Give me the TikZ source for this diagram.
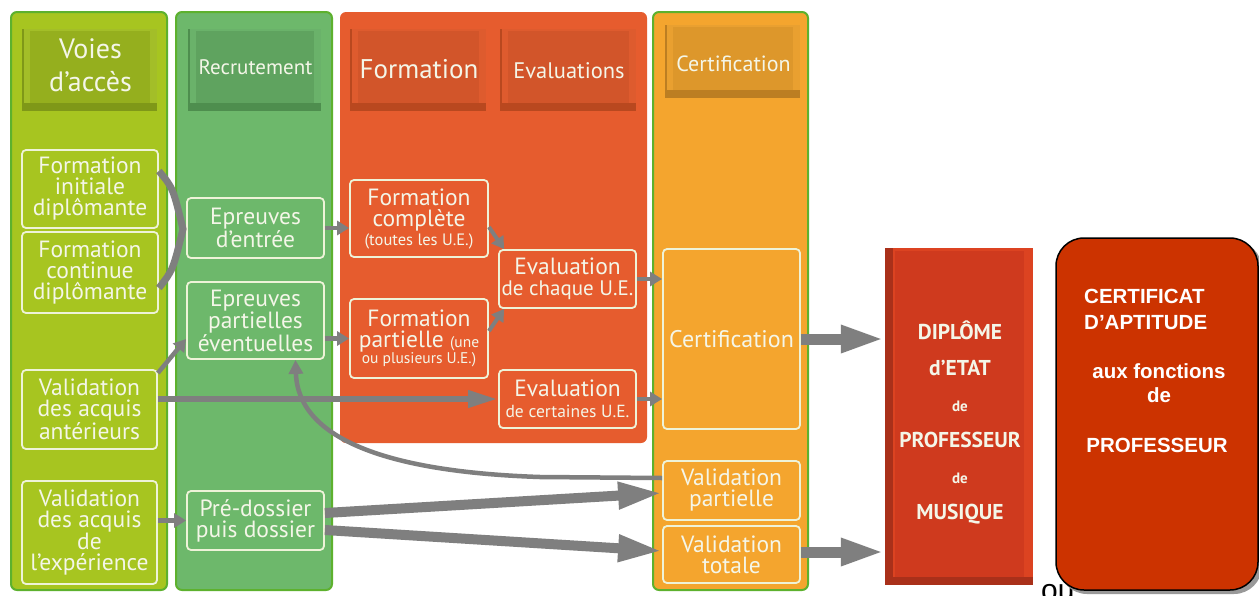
\documentclass[tikz,border=0pt]{standalone}
\usepackage{fontspec}
\setmainfont{PT Sans}
\newfontfamily\arialf{Liberation Sans}
\usetikzlibrary{arrows.meta}
\definecolor{bordgreen}{HTML}{5DB12E}
\definecolor{cA}{HTML}{A7C520}
\definecolor{cAdark}{HTML}{7F9818}
\definecolor{cAface}{HTML}{95AF1E}
\definecolor{cAlight}{HTML}{A3BE28}
\definecolor{cB}{HTML}{6DB86B}
\definecolor{cBdark}{HTML}{4E8E4E}
\definecolor{cBface}{HTML}{5FA35F}
\definecolor{cBlight}{HTML}{6AB26A}
\definecolor{cC}{HTML}{E65C2E}
\definecolor{cCdark}{HTML}{B9481F}
\definecolor{cCface}{HTML}{D2552A}
\definecolor{cClight}{HTML}{DE5B2E}
\definecolor{cD}{HTML}{F4A52E}
\definecolor{cDdark}{HTML}{BC7E22}
\definecolor{cDface}{HTML}{DD972B}
\definecolor{cDlight}{HTML}{E9A030}
\definecolor{dipl}{HTML}{CF3A1E}
\definecolor{dipldark}{HTML}{A9301A}
\definecolor{dipllight}{HTML}{DC4321}
\definecolor{certif}{HTML}{CC3300}
\definecolor{arrgray}{HTML}{7F7F7F}
\definecolor{txtw}{HTML}{F4F6E8}
\definecolor{boxline}{HTML}{EEF3D8}
\newcommand{\fsz}[2]{\fontsize{#1}{#2}\selectfont}
\newcommand{\bevelbox}[9]{%
  \fill[#6dark] (#2,#3) rectangle (#4,#5);
  \fill[#6light] ({#2+2},#3) rectangle (#4,{#5-8});
  \fill[#6face] ({#2+8},{#3+2}) rectangle ({#4-7},{#5-8});
  \node[headtext, font=#7] (#1) at ({(#2+#4)/2+1},{(#3+#5)/2+#9}) {#8};
}
\tikzset{
  x=1pt, y=-1pt,
  headtext/.style={text=txtw, align=center, inner sep=0pt},
  ibox/.style={draw=boxline, line width=1.8pt, rounded corners=4pt, text=txtw,
    align=center, inner sep=0pt, font=\fsz{23.5}{21}},
  colbox/.style={draw=bordgreen, line width=2pt, rounded corners=6pt},
  arr/.style={draw=arrgray, line width=4.5pt, -{Triangle[length=12pt,width=14pt]}},
  bigarr/.style={draw=arrgray, line width=11pt, -{Triangle[length=44pt,width=25pt]}},
  midarr/.style={draw=arrgray, line width=6.5pt, -{Triangle[length=30pt,width=16pt]}},
  thinline/.style={draw=arrgray, line width=7pt},
}
\begin{document}
\begin{tikzpicture}
\useasboundingbox (0,0) rectangle (1259,595);
\fill[white] (0,0) rectangle (1259,595);
% columns
\draw[colbox, fill=cA] (11,12) rectangle (167,590);
\draw[colbox, fill=cB] (176,12) rectangle (332,590);
\fill[cC, rounded corners=6pt] (340,12) rectangle (647,443);
\draw[colbox, fill=cD] (653,12) rectangle (808,590);
% headers
\bevelbox{hA}{22}{29}{157}{111}{cA}{\fsz{28}{33}}{Voies\\d’accès}{-5}
\bevelbox{hB}{188}{29}{321}{111}{cB}{\fsz{21}{22}}{Recrutement}{-3}
\bevelbox{hC}{350}{29}{486}{111}{cC}{\fsz{27}{28}}{Formation}{-1}
\bevelbox{hE}{500}{29}{636}{111}{cC}{\fsz{22.5}{24}}{Evaluations}{1}
\bevelbox{hD}{665}{25}{800}{98}{cD}{\fsz{22}{24}}{Certification}{2}
% column 1
\node[ibox, minimum width=136pt, minimum height=78pt] (fid) at (90,189) {Formation\\initiale\\diplômante};
\node[ibox, minimum width=136pt, minimum height=81pt] (fcd) at (90,272.5) {Formation\\continue\\diplômante};
\node[ibox, minimum width=135pt, minimum height=79pt] (vaa) at (89.5,409.5) {Validation\\des acquis\\antérieurs};
\node[ibox, minimum width=135pt, minimum height=103pt] (vae) at (89.5,532.5) {Validation\\des acquis\\de\\l’expérience};
% column 2
\node[ibox, minimum width=137pt, minimum height=60pt] (ee) at (255.5,228) {Epreuves\\d’entrée};
\node[ibox, minimum width=137pt, minimum height=77pt] (epe) at (255.5,320.5) {Epreuves\\partielles\\éventuelles};
\node[ibox, minimum width=137pt, minimum height=59pt] (pd) at (255.5,520.5) {Pré-dossier\\puis dossier};
% column 3
\node[ibox, minimum width=138pt, minimum height=77pt] (fc) at (419,218.5) {Formation\\complète\\[-2pt]{\fsz{16.5}{15}(toutes les U.E.)}};
\node[ibox, minimum width=138pt, minimum height=79pt] (fp) at (419,338.5) {Formation\\partielle {\fsz{15.5}{15}(une}\\[-5pt]{\fsz{15.5}{15}ou plusieurs U.E.)}};
\node[ibox, minimum width=137pt, minimum height=58pt] (ec) at (567.5,279) {Evaluation\\{\fsz{21}{20}de chaque U.E.}};
\node[ibox, minimum width=137pt, minimum height=58pt] (ece) at (567.5,399) {Evaluation\\{\fsz{17.5}{18}de certaines U.E.}};
% column 4
\node[ibox, minimum width=137pt, minimum height=180pt, font=\fsz{24}{24}] (cert) at (731.5,339) {Certification};
\node[ibox, minimum width=137pt, minimum height=59pt] (vp) at (731.5,490.5) {Validation\\partielle};
\node[ibox, minimum width=137pt, minimum height=57pt] (vt) at (731.5,554.5) {Validation\\totale};
% diplome
\node[fill=dipldark, minimum width=148pt, minimum height=337pt, inner sep=0pt] (dipbox) at (959,416.5) {};
\fill[dipllight] (893,248) rectangle (1033,577);
\fill[dipl] (895,251) rectangle (1024,577);
\node[text=txtw, align=center, inner sep=0pt, font=\bfseries\fsz{21.5}{36}] (dip) at (960,422)
  {DIPLÔME\\d’ETAT\\{\fsz{15}{36}de}\\PROFESSEUR\\{\fsz{15}{36}de}\\MUSIQUE};
% ou + certificat
\node[anchor=base west, inner sep=0pt, font=\arialf\fsz{30}{32}] (ou) at (1041,600) {ou};
\fill[black!40, rounded corners=28pt] (1059,241) rectangle (1262,594);
\draw[fill=certif, draw=black, line width=1.5pt, rounded corners=28pt] (1056,238) rectangle (1258,590);
\node[anchor=base west, inner sep=0pt, text=white, font=\arialf\bfseries\fsz{20.5}{24}] (ct1) at (1084,303) {CERTIFICAT};
\node[anchor=base west, inner sep=0pt, text=white, font=\arialf\bfseries\fsz{20.5}{24}] (ct2) at (1084,329) {D’APTITUDE};
\node[anchor=base, inner sep=0pt, text=white, font=\arialf\bfseries\fsz{20.5}{24}] (ct3) at (1159,378) {aux fonctions};
\node[anchor=base, inner sep=0pt, text=white, font=\arialf\bfseries\fsz{20.5}{24}] (ct4) at (1159,402) {de};
\node[anchor=base, inner sep=0pt, text=white, font=\arialf\bfseries\fsz{20.5}{24}] (ct5) at (1157,452) {PROFESSEUR};
% connectors
\coordinate (apex) at (183,229);
\draw[thinline] (fid.east |- 0,171) .. controls (173,188) .. (apex) .. controls (173,270) .. (fcd.east |- 0,288);
\draw[arr] (ee.east) -- (fc.west |- ee.east);
\draw[arr] (epe.east |- fp.west) -- (fp.west);
\draw[arr] (vaa.north east |- 0,373) -- (epe.west |- 0,339);
\draw[midarr] (vaa.east |- ece.west) -- (ece.west);
\draw[arr] (vae.east |- pd.west) -- (pd.west);
\draw[arr, line width=4pt] (fc.east |- 0,227) -- ([xshift=6pt]ec.north west);
\draw[arr, line width=4pt] (fp.east |- 0,331) -- ([xshift=6pt]ec.south west);
\draw[arr] (ec.east) -- (cert.west |- ec.east);
\draw[arr] (ece.east) -- (cert.west |- ece.east);
\draw[bigarr] (cert.east) -- (dipbox.west |- cert.east);
\draw[bigarr] (vt.east |- 0,552) -- (dipbox.west |- 0,552);
\draw[bigarr, line width=10pt] (pd.east |- 0,513) -- (vp.west |- 0,493);
\draw[bigarr, line width=10pt] (pd.east |- 0,530) -- (vt.west |- 0,551);
\draw[draw=arrgray, line width=4.5pt, -{Triangle[length=14pt,width=14pt]}]
  (vp.west |- 0,478) -- (540,477) .. controls (390,472) and (298,440) .. ([xshift=40pt]epe.south);
\end{tikzpicture}
\end{document}
